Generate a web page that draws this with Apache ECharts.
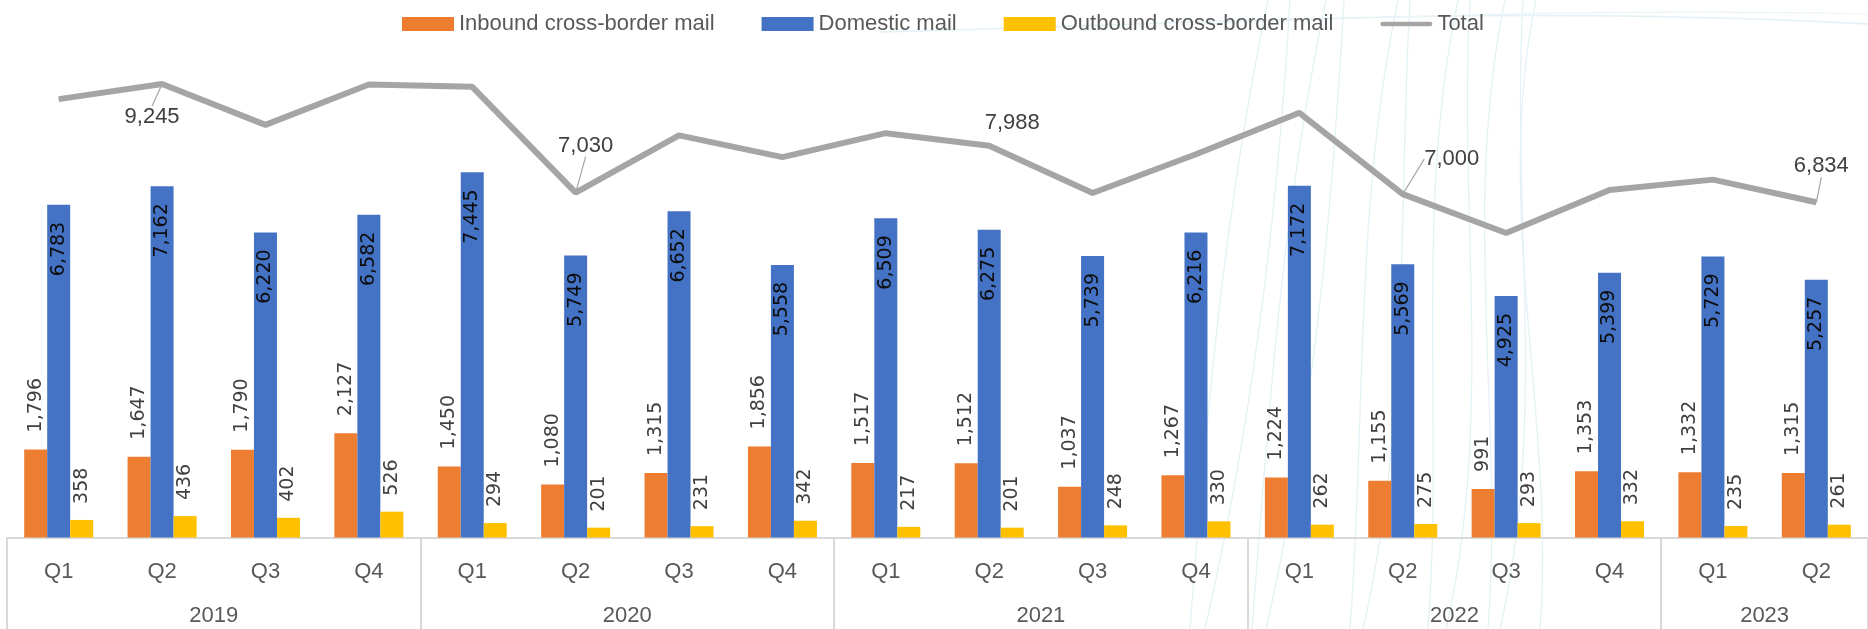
<!DOCTYPE html>
<html>
<head>
<meta charset="utf-8">
<script src="https://cdn.jsdelivr.net/npm/echarts@6/dist/echarts.min.js"></script>
<style>
  html, body { margin: 0; padding: 0; background: #fff; }
  #chart { width: 1868px; height: 629px; }
</style>
</head>
<body>
<div id="chart"></div>
<script>
// 季度（横轴第一层）
const periods = ['2019 Q1','2019 Q2','2019 Q3','2019 Q4',
                 '2020 Q1','2020 Q2','2020 Q3','2020 Q4',
                 '2021 Q1','2021 Q2','2021 Q3','2021 Q4',
                 '2022 Q1','2022 Q2','2022 Q3','2022 Q4',
                 '2023 Q1','2023 Q2'];
// 年份（横轴第二层）及每年的季度数
const years = ['2019', '2020', '2021', '2022', '2023'];
const quartersPerYear = [4, 4, 4, 4, 2];

const inbound  = [1796, 1647, 1790, 2127, 1450, 1080, 1315, 1856, 1517, 1512, 1037, 1267, 1224, 1155, 991, 1353, 1332, 1315];
const domestic = [6783, 7162, 6220, 6582, 7445, 5749, 6652, 5558, 6509, 6275, 5739, 6216, 7172, 5569, 4925, 5399, 5729, 5257];
const outbound = [358, 436, 402, 526, 294, 201, 231, 342, 217, 201, 248, 330, 262, 275, 293, 332, 235, 261];
const total    = [8937, 9245, 8412, 9235, 9189, 7030, 8198, 7756, 8243, 7988, 7024, 7813, 8658, 7000, 6209, 7084, 7296, 6834];

// 只有这几个点显示总量标签，偏移量 [dx, dy, 是否画引导线]
const totalLabelOffsets = {
    1:  [-10, 33, true],
    5:  [10, -47, true],
    9:  [23, -23, false],
    13: [49, -35, true],
    17: [5, -36, true]
};

const C_ORANGE = '#ED7D31', C_BLUE = '#4472C4', C_YELLOW = '#FFC000', C_GREY = '#A5A5A5';
const AXIS_GREY = '#D9D9D9';

function fmt(v) {
    return String(v).replace(/\B(?=(\d{3})+(?!\d))/g, ',');
}

// 年份分隔线位置和年份标签位置
let yearBounds = [0], yearMids = [];
let acc = 0;
for (let i = 0; i < quartersPerYear.length; i++) {
    yearMids.push(acc + quartersPerYear[i] / 2);
    acc += quartersPerYear[i];
    yearBounds.push(acc);
}

let chart = echarts.init(document.getElementById('chart'));

// 背景装饰的浅色曲线
let deco = [];
const decoLines = [[1268, 1190], [1290, 1205], [1326, 1252], [1344, 1266], [1398, 1350],
                   [1410, 1363], [1458, 1428], [1470, 1446], [1505, 1488], [1523, 1500], [1536, 1540]];
decoLines.forEach(function (p, k) {
    let bend = (k % 2 ? 18 : -14);
    deco.push({
        type: 'bezierCurve', z: -10, silent: true,
        shape: { x1: p[0], y1: 0, cpx1: p[0] - 30 + bend, cpy1: 210, cpx2: p[1] + 30 + bend, cpy2: 420, x2: p[1], y2: 629 },
        style: { stroke: '#E3F2F6', lineWidth: 1.3, fill: null }
    });
});
deco.push({
    type: 'bezierCurve', z: -10, silent: true,
    shape: { x1: 880, y1: 32, cpx1: 1200, cpy1: 24, cpx2: 1500, cpy2: 4, x2: 1868, y2: 24 },
    style: { stroke: '#E3F0F6', lineWidth: 1.5, fill: null }
});
deco.push({
    type: 'bezierCurve', z: -10, silent: true,
    shape: { x1: 1080, y1: 30, cpx1: 1300, cpy1: 18, cpx2: 1600, cpy2: 8, x2: 1868, y2: 14 },
    style: { stroke: '#EAF5F8', lineWidth: 1.2, fill: null }
});

const barLabelFont = { fontFamily: 'DejaVu Sans', fontSize: 19 };

option = {
    animation: false,
    graphic: deco,
    legend: {
        left: 397,
        top: 8,
        itemWidth: 52,
        itemHeight: 14,
        itemGap: 47,
        textStyle: { fontFamily: 'Liberation Sans', fontSize: 22, color: '#595959' },
        data: [
            { name: 'Inbound cross-border mail', icon: 'rect' },
            { name: 'Domestic mail', icon: 'rect' },
            { name: 'Outbound cross-border mail', icon: 'rect' },
            { name: 'Total', icon: 'path://M2.5,0 L54.5,0 A2.5,2.5 0 0 1 54.5,5 L2.5,5 A2.5,2.5 0 0 1 2.5,0 Z' }
        ]
    },
    grid: {
        left: 7,
        width: 1870,
        top: 47,
        bottom: 91.5,
        containLabel: false
    },
    xAxis: [
        {
            type: 'category',
            data: periods,
            axisTick: { show: false },
            axisLine: { lineStyle: { color: AXIS_GREY, width: 2 } },
            axisLabel: {
                margin: 23,
                fontFamily: 'Liberation Sans',
                fontSize: 22,
                color: '#595959',
                formatter: function (v) { return v.split(' ')[1]; }
            }
        },
        {
            type: 'value',
            min: 0,
            max: periods.length,
            position: 'bottom',
            axisLine: { show: false },
            splitLine: { show: false },
            axisTick: {
                show: true,
                length: 95,
                customValues: yearBounds,
                lineStyle: { color: AXIS_GREY, width: 2 }
            },
            axisLabel: {
                margin: 67,
                customValues: yearMids,
                fontFamily: 'Liberation Sans',
                fontSize: 22,
                color: '#595959',
                formatter: function (v) {
                    let i = yearMids.indexOf(v);
                    return i >= 0 ? years[i] : '';
                }
            }
        }
    ],
    yAxis: {
        type: 'value',
        min: 0,
        max: 10000,
        show: false
    },
    series: [
        {
            name: 'Inbound cross-border mail',
            type: 'bar',
            barWidth: 23,
            barGap: '0%',
            itemStyle: { color: C_ORANGE },
            label: Object.assign({
                show: true, position: 'top', rotate: 90, align: 'left', verticalAlign: 'middle',
                distance: 17, color: '#404040', formatter: function (p) { return fmt(p.value); }
            }, barLabelFont),
            data: inbound
        },
        {
            name: 'Domestic mail',
            type: 'bar',
            barWidth: 23,
            barGap: '0%',
            itemStyle: { color: C_BLUE },
            label: Object.assign({
                show: true, position: 'insideTop', rotate: 90, align: 'right', verticalAlign: 'middle',
                distance: 17, color: '#0D0D0D', formatter: function (p) { return fmt(p.value); }
            }, barLabelFont),
            data: domestic
        },
        {
            name: 'Outbound cross-border mail',
            type: 'bar',
            barWidth: 23,
            barGap: '0%',
            itemStyle: { color: C_YELLOW },
            label: Object.assign({
                show: true, position: 'top', rotate: 90, align: 'left', verticalAlign: 'middle',
                distance: 16, color: '#404040', formatter: function (p) { return fmt(p.value); }
            }, barLabelFont),
            data: outbound
        },
        {
            name: 'Total',
            type: 'line',
            symbol: 'circle',
            symbolSize: 1,
            showSymbol: true,
            itemStyle: { color: C_GREY },
            lineStyle: { color: C_GREY, width: 6 },
            z: 5,
            label: {
                show: false,
                position: 'inside',
                fontFamily: 'Liberation Sans',
                fontSize: 22,
                color: '#404040',
                formatter: function (p) { return fmt(p.value); }
            },
            labelLine: { show: true, lineStyle: { color: C_GREY, width: 1.2 } },
            labelLayout: function (params) {
                let off = totalLabelOffsets[params.dataIndex];
                if (!off) return {};
                return { dx: off[0], dy: off[1] };
            },
            data: total.map(function (v, i) {
                let off = totalLabelOffsets[i];
                if (!off) return v;
                return { value: v, label: { show: true }, labelLine: { show: off[2] } };
            })
        }
    ]
};

chart.setOption(option);
</script>
</body>
</html>
